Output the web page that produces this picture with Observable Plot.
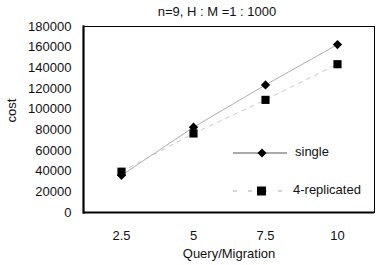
<!DOCTYPE html>
<html><head><meta charset="utf-8">
<script src="https://cdn.jsdelivr.net/npm/d3@7"></script>
<script src="https://cdn.jsdelivr.net/npm/@observablehq/plot@0.6"></script>
<style>
body{margin:0;background:#fff;font-family:"Liberation Sans",Arial,sans-serif;}
#wrap{position:relative;width:376px;height:265px;overflow:hidden;}
#chart{position:absolute;left:0;top:0;}
#title{position:absolute;left:0;width:434px;top:4px;text-align:center;font-size:13px;color:#111;}
#ylab{position:absolute;left:-6px;top:103px;width:34px;text-align:center;font-size:13px;color:#111;transform:rotate(-90deg);}
#legend{position:absolute;left:230px;top:140px;font-size:13px;color:#111;}
.row{position:absolute;white-space:nowrap;}
</style></head>
<body><div id="wrap"><div id="chart"></div><div id="title">n=9, H : M =1 : 1000</div>
<div id="ylab">cost</div><div id="legend"></div></div>
<script>
const queries = ["2.5", "5", "7.5", "10"];
const single = [36000, 82500, 123500, 162500];
const replicated = [39500, 76500, 109000, 143500];
const yTicks = [0, 20000, 40000, 60000, 80000, 100000, 120000, 140000, 160000, 180000];
const seriesNames = ["single", "4-replicated"];

const rowsS = queries.map((q, i) => ({q, v: single[i]}));
const rowsR = queries.map((q, i) => ({q, v: replicated[i]}));

const chart = Plot.plot({
  width: 376, height: 265,
  marginLeft: 83, marginRight: 2, marginTop: 26, marginBottom: 53,
  style: {fontFamily: "Liberation Sans, Arial, sans-serif", fontSize: "13px", color: "#111", background: "white"},
  x: {type: "point", domain: queries, padding: 0.5, label: "Query/Migration", labelAnchor: "center", labelOffset: 45, tickSize: 0, tickPadding: 18},
  y: {domain: [0, 180000], ticks: yTicks, tickFormat: d => String(d), label: null, tickSize: 0, tickPadding: 12},
  marks: [
    Plot.frame({stroke: "#000", strokeWidth: 1}),
    Plot.frame({anchor: "left", stroke: "#000", strokeWidth: 2.2}),
    Plot.ruleY([0], {stroke: "#000", strokeWidth: 2.2}),
    Plot.line(rowsS, {x: "q", y: "v", stroke: "#999", strokeWidth: 0.8}),
    Plot.line(rowsR, {x: "q", y: "v", stroke: "#bbb", strokeWidth: 0.8, strokeDasharray: "4,5"}),
    Plot.dot(rowsR, {x: "q", y: "v", symbol: "square", fill: "#000", r: 4.6}),
    Plot.dot(rowsS, {x: "q", y: "v", symbol: "diamond2", fill: "#000", r: 4.2})
  ]
});
document.getElementById("chart").appendChild(chart);

const legend = document.getElementById("legend");
legend.innerHTML =
  `<div class="row" style="top:4px;left:0"><svg width="60" height="16" style="vertical-align:middle">
     <line x1="3" y1="8" x2="57" y2="8" stroke="#555" stroke-width="1"/>
     <path d="M32,3.5 L36.5,8 L32,12.5 L27.5,8Z" fill="#000"/></svg>
     <span style="position:absolute;left:65px;top:0">${seriesNames[0]}</span></div>
   <div class="row" style="top:42px;left:0"><svg width="60" height="16" style="vertical-align:middle">
     <line x1="3" y1="8" x2="57" y2="8" stroke="#aaa" stroke-width="1" stroke-dasharray="4,11"/>
     <rect x="27" y="3.5" width="9" height="9" fill="#000"/></svg>
     <span style="position:absolute;left:63px;top:0">${seriesNames[1]}</span></div>`;
</script></body></html>
